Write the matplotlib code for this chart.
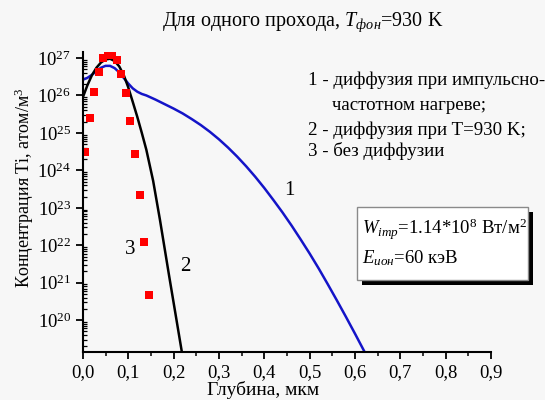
import numpy as np
import matplotlib
matplotlib.use("Agg")
import matplotlib.pyplot as plt
from matplotlib.ticker import FixedLocator, FuncFormatter, LogLocator, NullFormatter
from matplotlib.patches import Rectangle

plt.rcParams['font.family'] = ['Liberation Serif', 'DejaVu Serif']
plt.rcParams['mathtext.fontset'] = 'custom'
plt.rcParams['mathtext.rm'] = 'Liberation Serif'
plt.rcParams['mathtext.it'] = 'Liberation Serif:italic'

# curve 1 - pulse-frequency heating (log10 of concentration)
depth_1 = [0.0, 0.01, 0.02, 0.03, 0.04, 0.05, 0.06, 0.07, 0.08, 0.09, 0.10, 0.11,
           0.12, 0.13, 0.14, 0.16, 0.18, 0.20, 0.22, 0.24, 0.26, 0.28, 0.30, 0.32,
           0.34, 0.36, 0.38, 0.40, 0.42, 0.44, 0.46, 0.48, 0.50, 0.52, 0.54, 0.56,
           0.58, 0.60, 0.62, 0.625]
logc_1 = [26.42, 26.47, 26.55, 26.65, 26.74, 26.79, 26.79, 26.73, 26.62, 26.47,
          26.32, 26.19, 26.10, 26.04, 26.00, 25.89, 25.77, 25.65, 25.52, 25.37,
          25.21, 25.03, 24.83, 24.61, 24.37, 24.11, 23.83, 23.53, 23.21, 22.88,
          22.53, 22.16, 21.78, 21.38, 20.96, 20.53, 20.09, 19.64, 19.18, 19.06]

# curve 2 - diffusion at T=930 K
depth_2 = [0.0, 0.01, 0.02, 0.03, 0.04, 0.05, 0.06, 0.07, 0.08, 0.09, 0.10,
           0.11, 0.12, 0.13, 0.14, 0.155, 0.17, 0.19, 0.219]
logc_2 = [25.95, 26.27, 26.54, 26.74, 26.88, 26.96, 26.98, 26.92, 26.78, 26.55,
          26.22, 25.83, 25.43, 25.00, 24.55, 23.72, 22.68, 21.20, 19.10]

# points 3 - without diffusion
depth_3 = [0.005, 0.015, 0.025, 0.035, 0.045, 0.055, 0.065, 0.075, 0.085, 0.095,
           0.105, 0.115, 0.125, 0.135, 0.145]
logc_3 = [24.50, 25.40, 26.10, 26.63, 26.99, 27.08, 27.08, 26.95, 26.58, 26.06,
          25.33, 24.43, 23.35, 22.10, 20.67]

x_ticks = [0.0, 0.1, 0.2, 0.3, 0.4, 0.5, 0.6, 0.7, 0.8, 0.9]
y_decades = [20, 21, 22, 23, 24, 25, 26, 27]

bg = '#f7f7f7'
fig = plt.figure(figsize=(5.45, 4.0), dpi=100, facecolor=bg)
ax = fig.add_axes([0.152, 0.12, 0.749, 0.75], facecolor=bg)

ax.plot(depth_1, 10.0 ** np.array(logc_1), color='#1414c8', lw=1.8)
ax.plot(depth_2, 10.0 ** np.array(logc_2), color='black', lw=1.8)
ax.plot(depth_3, 10.0 ** np.array(logc_3), 's', color='#ff0000', ms=5.5, mew=0)

ax.set_yscale('log')
ax.set_xlim(0, 0.9)
ax.set_ylim(10 ** 19.15, 10 ** 27.16)

ax.xaxis.set_major_locator(FixedLocator(x_ticks))
ax.xaxis.set_minor_locator(FixedLocator([t + 0.05 for t in x_ticks[:-1]]))
ax.xaxis.set_major_formatter(FuncFormatter(lambda v, p: f"{v:.1f}".replace('.', ',')))
ax.yaxis.set_major_locator(FixedLocator([10.0 ** d for d in y_decades]))
ax.yaxis.set_major_formatter(FuncFormatter(lambda v, p: r'$10^{%d}$' % round(np.log10(v))))
ax.yaxis.set_minor_locator(LogLocator(base=10, subs=np.arange(2, 10), numticks=20))
ax.yaxis.set_minor_formatter(NullFormatter())

for s in ['top', 'right']:
    ax.spines[s].set_visible(False)
for s in ['left', 'bottom']:
    ax.spines[s].set_linewidth(1.5)

ax.tick_params(axis='both', which='major', direction='out', length=5, width=1.3,
               labelsize=13.5, colors='black')
ax.tick_params(axis='x', which='minor', direction='out', length=3, width=1.1)
ax.tick_params(axis='y', which='minor', direction='in', length=3, width=0.9)

ax.text(0.455, 10 ** 23.45, '1', fontsize=15, ha='center', va='center')
ax.text(0.225, 10 ** 21.43, '2', fontsize=15, ha='center', va='center')
ax.text(0.104, 10 ** 21.90, '3', fontsize=15, ha='center', va='center')

# axis labels and title
fig.text(263 / 545, 1 - 390 / 400, 'Глубина, мкм', fontsize=14, ha='center', va='center')
fig.text(24 / 545, 1 - 188 / 400, 'Концентрация Ti, атом/м$^3$', fontsize=13,
         rotation=90, ha='center', va='center')
fig.text(303 / 545, 1 - 22 / 400, r'Для одного прохода, $T_{фон}$=930 K', fontsize=14.5,
         ha='center', va='center')

# legend notes
lx = 308 / 545
fig.text(lx, 1 - 80 / 400, '1 - диффузия при импульсно-', fontsize=13.6, va='center')
fig.text(332 / 545, 1 - 106 / 400, 'частотном нагреве;', fontsize=13.6, va='center')
fig.text(lx, 1 - 130 / 400, '2 - диффузия при T=930 K;', fontsize=13.6, va='center')
fig.text(lx, 1 - 151 / 400, '3 - без диффузии', fontsize=13.6, va='center')

# parameter box with shadow
bx0, bx1, by0, by1 = 357, 528, 207, 280
fig.patches.append(Rectangle(((bx0 + 5) / 545, 1 - (by1 + 5) / 400), (bx1 - bx0) / 545,
                             (by1 - by0) / 400, transform=fig.transFigure,
                             facecolor='black', edgecolor='none', zorder=5))
fig.patches.append(Rectangle((bx0 / 545, 1 - by1 / 400), (bx1 - bx0) / 545,
                             (by1 - by0) / 400, transform=fig.transFigure,
                             facecolor='white', edgecolor='#8a8a8a', lw=1.0, zorder=6))
fig.text(362 / 545, 1 - 229 / 400, r'$W_{imp}$=1.14*10$^8$ Вт/м$^2$', fontsize=13.5,
         va='center', zorder=7)
fig.text(362 / 545, 1 - 258 / 400, r'$E_{ион}$=60 кэВ', fontsize=13.5, va='center', zorder=7)

fig.savefig('out.png', dpi=100, facecolor=bg)
